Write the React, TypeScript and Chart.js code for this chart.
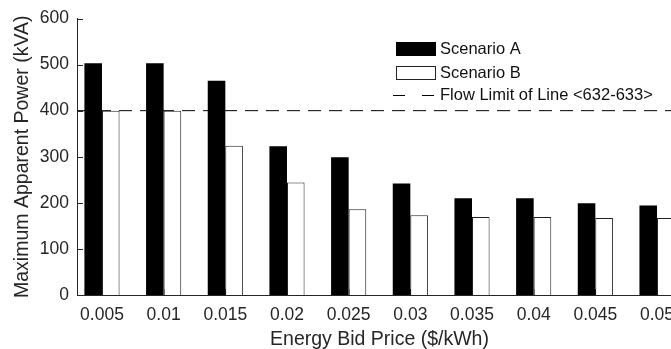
import { useEffect, useRef } from 'react';
import { Chart, registerables } from 'chart.js';

Chart.register(...registerables);

// Energy bid prices ($/kWh) on the horizontal axis
const bidPrices = ['0.005', '0.01', '0.015', '0.02', '0.025', '0.03', '0.035', '0.04', '0.045', '0.05'];

// Maximum apparent power (kVA) per scenario
const scenarioA = [503, 503, 465, 323, 299, 242, 210, 210, 199, 194];
const scenarioB = [400, 400, 324, 244, 186, 173, 169, 169, 167, 167];

// Thermal flow limit of line 632-633 (kVA)
const flowLimit = 400;

// Vertical axis range and step
const yMin = 0;
const yMax = 600;
const yStep = 100;

const FONT = "'Liberation Sans', Arial, Helvetica, sans-serif";
const INK = '#262626';

// Horizontal extent of the axes, in category units
const X_MIN = -0.405;
const X_MAX = 9.405;

const inwardTicks = {
  id: 'inwardTicks',
  beforeDatasetsDraw(chart: any) {
    const { ctx, chartArea, scales } = chart;
    ctx.save();
    ctx.strokeStyle = INK;
    ctx.lineWidth = 1;
    ctx.beginPath();
    bidPrices.forEach((_, i) => {
      const x = Math.round(scales.x.getPixelForValue(i)) + 0.5;
      ctx.moveTo(x, chartArea.bottom);
      ctx.lineTo(x, chartArea.bottom - 6);
    });
    ctx.stroke();
    ctx.restore();
  },
  afterDatasetsDraw(chart: any) {
    const { ctx, chartArea, scales } = chart;
    ctx.save();
    ctx.strokeStyle = INK;
    ctx.lineWidth = 1;
    ctx.beginPath();
    scales.y.ticks.forEach((t: any) => {
      if (t.value === yMin) return;
      const y = Math.round(scales.y.getPixelForValue(t.value)) + 0.5;
      ctx.moveTo(chartArea.left, y);
      ctx.lineTo(chartArea.left + 6, y);
    });
    ctx.stroke();
    ctx.restore();
  },
};

const insetLegend = {
  id: 'insetLegend',
  afterDraw(chart: any) {
    const { ctx } = chart;
    const ds = chart.data.datasets;
    const boxX = 396;
    const textX = 440;
    const rows = [49, 73, 95];
    ctx.save();
    ctx.font = `16.5px ${FONT}`;
    ctx.textBaseline = 'middle';
    ctx.textAlign = 'left';
    ds.forEach((d: any, i: number) => {
      const cy = rows[i];
      if (d.type === 'line') {
        ctx.strokeStyle = d.borderColor;
        ctx.lineWidth = 1;
        ctx.beginPath();
        ctx.moveTo(393, cy + 0.5);
        ctx.lineTo(405, cy + 0.5);
        ctx.moveTo(422, cy + 0.5);
        ctx.lineTo(434, cy + 0.5);
        ctx.stroke();
      } else {
        ctx.fillStyle = d.backgroundColor;
        ctx.fillRect(boxX, cy - 7, 40, 14);
        if (d.borderWidth) {
          ctx.strokeStyle = d.borderColor;
          ctx.lineWidth = 1;
          ctx.strokeRect(boxX + 0.5, cy - 6.5, 39, 13);
        }
      }
      ctx.fillStyle = '#111';
      ctx.fillText(d.label, textX, cy + 0.5);
    });
    ctx.restore();
  },
};

export default function App() {
  const canvasRef = useRef<HTMLCanvasElement | null>(null);

  useEffect(() => {
    const canvas = canvasRef.current;
    if (!canvas) return;

    const chart = new Chart(canvas, {
      type: 'bar',
      data: {
        datasets: [
          {
            type: 'bar',
            label: 'Scenario A',
            data: scenarioA.map((v, i) => ({ x: i, y: v })),
            backgroundColor: '#000000',
            borderColor: '#000000',
            borderWidth: 0,
            categoryPercentage: 0.57,
            barPercentage: 1,
          },
          {
            type: 'bar',
            label: 'Scenario B',
            data: scenarioB.map((v, i) => ({ x: i, y: v })),
            backgroundColor: '#ffffff',
            borderColor: '#222222',
            borderWidth: 1,
            categoryPercentage: 0.57,
            barPercentage: 1,
          },
          {
            type: 'line',
            label: 'Flow Limit of Line <632-633>',
            data: [
              { x: X_MIN, y: flowLimit },
              { x: X_MAX, y: flowLimit },
            ],
            borderColor: '#000000',
            borderWidth: 1,
            borderDash: [13, 8],
            pointRadius: 0,
            fill: false,
          },
        ] as any,
      },
      options: {
        animation: false,
        responsive: false,
        devicePixelRatio: 1,
        layout: { padding: { left: 0, top: 16, right: 18, bottom: 0 } },
        plugins: {
          legend: { display: false },
          tooltip: { enabled: false },
        },
        scales: {
          x: {
            type: 'linear',
            offset: false,
            min: X_MIN,
            max: X_MAX,
            grid: { display: false, drawTicks: false, offset: false },
            border: { display: true, color: INK, width: 1 },
            afterBuildTicks: (scale: any) => {
              scale.ticks = bidPrices.map((_, i) => ({ value: i }));
            },
            afterFit: (scale: any) => {
              scale.height = 56;
            },
            ticks: {
              autoSkip: false,
              maxRotation: 0,
              padding: 9.5,
              color: INK,
              font: { family: FONT, size: 17.5 },
              callback: (v: any) => bidPrices[v] ?? '',
            },
            title: {
              display: true,
              text: 'Energy Bid Price ($/kWh)',
              color: INK,
              font: { family: FONT, size: 19.5 },
              padding: { top: 0, bottom: 0 },
            },
          },
          y: {
            min: yMin,
            max: yMax,
            grid: { display: false, drawTicks: false },
            border: { display: true, color: INK, width: 1 },
            afterFit: (scale: any) => {
              scale.width = 77;
            },
            ticks: {
              stepSize: yStep,
              padding: 8,
              color: INK,
              font: { family: FONT, size: 17.5 },
            },
            title: {
              display: true,
              text: 'Maximum Apparent Power (kVA)',
              color: INK,
              font: { family: FONT, size: 19.5 },
              padding: { top: 11, bottom: 0 },
            },
          },
        },
      } as any,
      plugins: [inwardTicks, insetLegend],
    });

    return () => chart.destroy();
  }, []);

  return (
    <div
      style={{
        position: 'fixed',
        left: 0,
        top: 0,
        width: 671,
        height: 349,
        overflow: 'hidden',
        background: '#ffffff',
      }}
    >
      <canvas ref={canvasRef} width={700} height={351} style={{ width: 700, height: 351, display: 'block' }} />
    </div>
  );
}
